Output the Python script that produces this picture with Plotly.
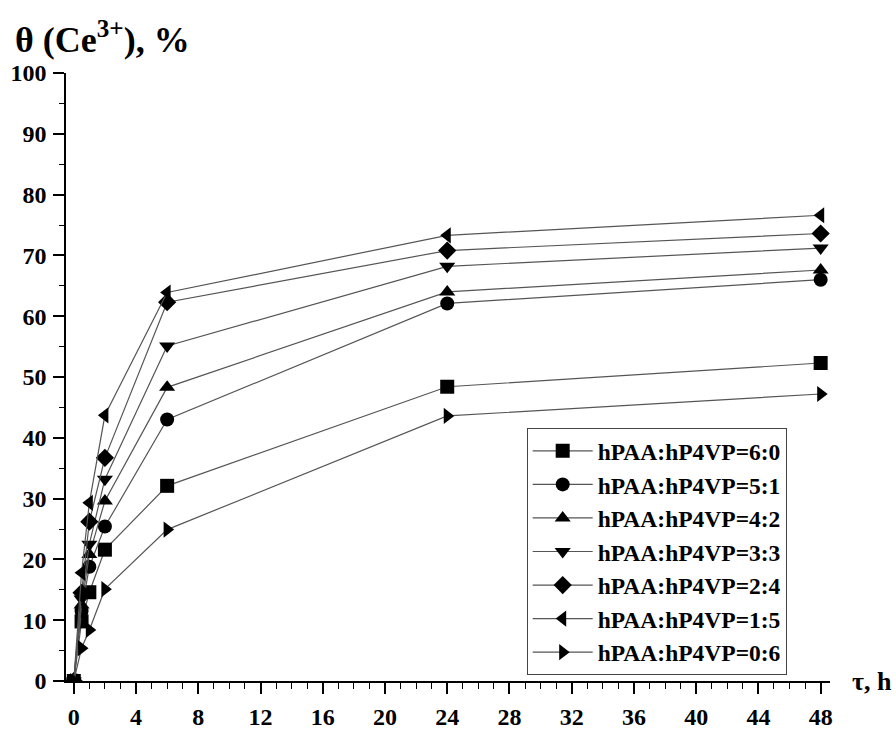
import plotly.graph_objects as go

time_h = [0, 0.5, 1, 2, 6, 24, 48]
series_names = ["hPAA:hP4VP=6:0", "hPAA:hP4VP=5:1", "hPAA:hP4VP=4:2", "hPAA:hP4VP=3:3",
                "hPAA:hP4VP=2:4", "hPAA:hP4VP=1:5", "hPAA:hP4VP=0:6"]
v_6_0 = [0, 9.8, 14.6, 21.6, 32.1, 48.4, 52.3]
v_5_1 = [0, 11.5, 18.8, 25.4, 43.0, 62.1, 66.0]
v_4_2 = [0, 12.5, 20.8, 29.6, 48.3, 64.0, 67.6]
v_3_3 = [0, 13.5, 22.5, 33.2, 55.1, 68.2, 71.2]
v_2_4 = [0, 14.5, 26.2, 36.7, 62.3, 70.8, 73.6]
v_1_5 = [0, 17.8, 29.3, 43.7, 63.9, 73.3, 76.6]
v_0_6 = [0, 5.4, 8.4, 15.1, 24.9, 43.6, 47.2]
series_values = [v_6_0, v_5_1, v_4_2, v_3_3, v_2_4, v_1_5, v_0_6]
symbols = ["square", "circle", "triangle-up", "triangle-down", "diamond", "triangle-left", "triangle-right"]
x_ticks = list(range(0, 49, 4))
y_ticks = list(range(0, 101, 10))

FONT = "Liberation Serif, Times New Roman, serif"

def bf(size):
    return dict(family=FONT, size=size, color="black", weight="bold")

fig = go.Figure()
for name, vals, sym in zip(series_names, series_values, symbols):
    fig.add_trace(go.Scatter(
        x=time_h, y=vals, name=name, mode="lines+markers",
        line=dict(color="#555555", width=1.2),
        marker=dict(symbol=sym, size=14, color="black", line=dict(width=0)),
    ))

fig.update_layout(
    width=896, height=729,
    margin=dict(l=66, r=66, t=73, b=48, autoexpand=False),
    paper_bgcolor="white", plot_bgcolor="white",
    font=bf(20),
    showlegend=True,
    legend=dict(
        x=0.603, y=0.416, xanchor="left", yanchor="top",
        bgcolor="white", bordercolor="#444444", borderwidth=1,
        font=bf(23.5),
        itemwidth=60, tracegroupgap=0,
    ),
    xaxis=dict(
        range=[-0.5, 48.6], tickvals=x_ticks, ticktext=[str(t) for t in x_ticks],
        showgrid=False, zeroline=False, showline=True, linecolor="black", linewidth=1.5,
        ticks="outside", ticklen=11, tickwidth=1.5, tickcolor="black",
        minor=dict(ticks="outside", ticklen=6, dtick=1, tickwidth=1.2, tickcolor="black", showgrid=False),
        tickfont=bf(24), automargin=False,
        ticklabelstandoff=2,
    ),
    yaxis=dict(
        range=[0, 100], tickvals=y_ticks, ticktext=[str(t) for t in y_ticks],
        showgrid=False, zeroline=False, showline=True, linecolor="black", linewidth=1.5,
        ticks="outside", ticklen=11, tickwidth=1.5, tickcolor="black",
        minor=dict(ticks="outside", ticklen=5, dtick=5, tickwidth=1.2, tickcolor="black", showgrid=False),
        tickfont=bf(24), automargin=False,
        ticklabelstandoff=2,
    ),
    annotations=[
        dict(text="θ (Ce<sup>3+</sup>), %", xref="paper", yref="paper",
             x=-0.07, y=1.058, xanchor="left", yanchor="middle",
             showarrow=False, font=bf(36)),
        dict(text="τ, h", xref="paper", yref="y", x=1.0, y=0, xanchor="left", yanchor="middle",
             xshift=20, showarrow=False, font=bf(26)),
    ],
)

fig.write_html("out.html")
